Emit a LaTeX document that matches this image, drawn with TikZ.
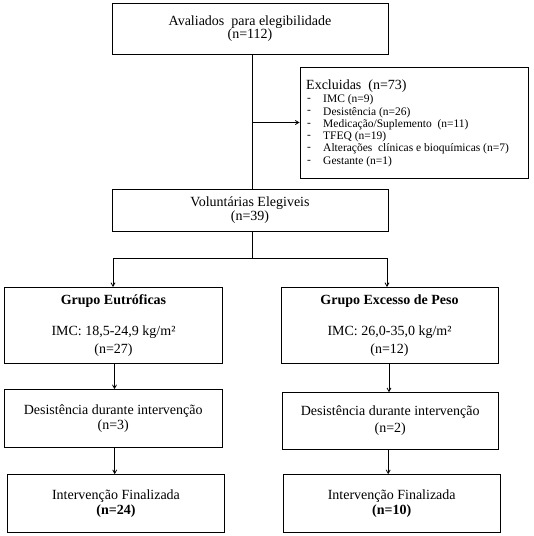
\documentclass[tikz,border=0pt]{standalone}
\usepackage{fontspec}
\setmainfont{Liberation Serif}
\usetikzlibrary{arrows.meta}
\begin{document}
\begin{tikzpicture}[x=1pt,y=-1pt,
  box/.style={draw=black,line width=0.9pt,rectangle,inner sep=0pt,align=center,
    font=\fontsize{14}{15}\selectfont},
  lst/.style={inner sep=0pt,anchor=west,font=\fontsize{11.5}{12}\selectfont},
  conn/.style={draw=black,line width=0.8pt},
  arr/.style={conn,-{Straight Barb[length=3.5pt,width=4pt]}}]
\useasboundingbox (0,0) rectangle (534,536);
% boxes
\node[box,minimum width=276pt,minimum height=51pt] (aval) at (250,28.5)
  {Avaliados\ \ para elegibilidade\\[-1.5pt](n=112)};
\node[box,minimum width=228pt,minimum height=111pt] (excl) at (414,122.5) {};
\node[box,minimum width=276pt,minimum height=42pt] (vol) at (250,210)
  {Voluntárias Elegiveis\\[-1pt](n=39)};
\node[box,minimum width=218pt,minimum height=75.5pt] (eut) at (113.5,325.2)
  {\textbf{Grupo Eutróficas}\\[16pt]IMC: 18,5-24,9 kg/m²\\[3pt](n=27)};
\node[box,minimum width=217pt,minimum height=75.5pt] (exc) at (389.5,325.2)
  {\textbf{Grupo Excesso de Peso}\\[16pt]IMC: 26,0-35,0 kg/m²\\[3pt](n=12)};
\node[box,minimum width=217.5pt,minimum height=58pt] (desl) at (113.2,418.6)
  {Desistência durante intervenção\\[0.5pt](n=3)};
\node[box,minimum width=216.5pt,minimum height=56.3pt] (desr) at (390.2,420.8)
  {Desistência durante intervenção\\[1.5pt](n=2)};
\node[box,minimum width=217pt,minimum height=58pt] (finl) at (116,503.6)
  {Intervenção Finalizada\\[0pt]\textbf{(n=24)}};
\node[box,minimum width=217.5pt,minimum height=58pt] (finr) at (391.7,503.6)
  {Intervenção Finalizada\\[0pt]\textbf{(n=10)}};
% excluded list
\node[inner sep=0pt,anchor=west,font=\fontsize{14}{14}\selectfont] (exh) at (306,86) {Excluidas\ \ (n=73)};
\foreach \yy/\tt [count=\i] in {100/{IMC (n=9)},112.3/{Desistência (n=26)},124.6/{Medicação/Suplemento\ \ (n=11)},
  136.9/{TFEQ (n=19)},149.2/{Alterações\ \ clínicas e bioquímicas (n=7)},161.5/{Gestante (n=1)}}{
  \node[lst] (d\i) at (307,\yy) {-};
  \node[lst] (it\i) at (323,\yy) {\tt};
}
% connectors
\coordinate (trunk) at (252,54);
\coordinate (bl) at (113,258);
\coordinate (br) at (387,258);
\draw[conn] (aval.south -| trunk) -- (vol.north -| trunk);
\draw[arr] (trunk |- excl.west) -- (excl.west);
\draw[conn] (vol.south -| trunk) -- (trunk |- bl);
\draw[conn] (bl) -- (br);
\draw[arr] (bl) -- (bl |- eut.north);
\draw[arr] (br) -- (br |- exc.north);
\draw[arr] ([xshift=1pt]eut.south) -- ([xshift=1pt]eut.south |- desl.north);
\draw[arr] ([xshift=1.5pt]desl.south) -- ([xshift=1.5pt]desl.south |- finl.north);
\draw[arr] ([xshift=-0.5pt]exc.south) -- ([xshift=-0.5pt]exc.south |- desr.north);
\draw[arr] ([xshift=-2pt]desr.south) -- ([xshift=-2pt]desr.south |- finr.north);
\end{tikzpicture}
\end{document}
